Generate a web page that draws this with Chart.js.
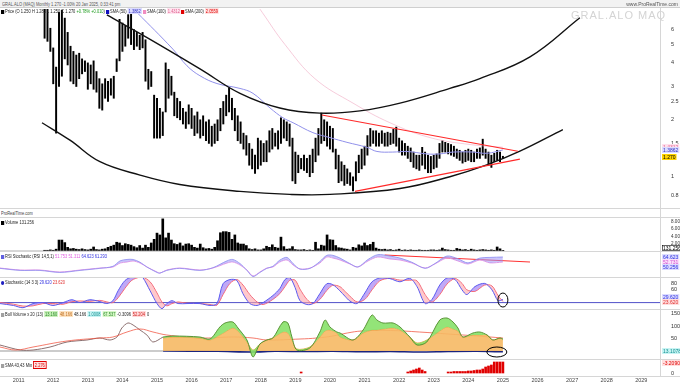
<!DOCTYPE html>
<html>
<head>
<meta charset="utf-8">
<script src="https://cdn.jsdelivr.net/npm/chart.js@4.4.1/dist/chart.umd.min.js"></script>
<style>
  body { margin: 0; width: 680px; height: 383px; overflow: hidden; position: relative; background: #fff;
         font-family: "Liberation Sans", Arial, sans-serif; }
  canvas { position: absolute; left: 0; }
  .t { position: absolute; font-size: 5px; line-height: 6px; white-space: nowrap; color: #222; z-index: 5; }
  .n { transform: scaleX(0.8); transform-origin: 0 0; }
  .sq { display: inline-block; width: 4px; height: 4px; margin-right: 1px; vertical-align: -0.5px; }
  .b { padding: 0 1px; }
  .hl { position: absolute; left: 0; width: 680px; height: 0; border-top: 1px solid #d6d6d6; z-index: 4; }
</style>
</head>
<body>
<div style="position:absolute;left:0;top:0;width:680px;height:7px;background:#f2f2f2;border-bottom:1px solid #cfcfcf"></div>
<div class="t n" style="left:2px;top:1px;color:#555">GRAL.ALO (MAQ) Monthly 1.270 -1.00% 20 Jan 2025, 0:33:41 pm</div>
<div class="t" style="right:2px;top:1px;color:#555">www.ProRealTime.com</div>
<div style="position:absolute;left:571px;top:9px;font-size:11px;letter-spacing:1px;color:#d4d4d4;z-index:1">GRAL.ALO MAQ</div>

<canvas id="cMain" width="680" height="197" style="top:9px"></canvas>
<canvas id="cVol" width="680" height="33" style="top:218px"></canvas>
<canvas id="cRsi" width="680" height="25" style="top:252px"></canvas>
<canvas id="cSto" width="680" height="32" style="top:277px"></canvas>
<canvas id="cBull" width="680" height="49" style="top:310px"></canvas>
<canvas id="cSma" width="680" height="23" style="top:360px"></canvas>

<div class="t n" style="left:1px;top:8px"><span class="sq" style="background:#000"></span>Price (O 1.250 H 1.283 L 1.250 C 1.270 <span style="color:#1a9a1a">+0.78% +0.010</span>)</div>
<div class="t n" style="left:106px;top:8px"><span class="sq" style="background:#1010c0"></span>SMA (50) <span class="b" style="color:#3030c0;background:#dcdcff">1.3862</span></div>
<div class="t n" style="left:143px;top:8px"><span class="sq" style="background:#f08cc0"></span>SMA (100) <span class="b" style="color:#e06090;background:#ffe4ef">1.4312</span></div>
<div class="t n" style="left:181px;top:8px"><span class="sq" style="background:#e00000"></span>SMA (200) <span class="b" style="color:#e00000;background:#ffe0e0">2.0559</span></div>

<div class="hl" style="top:208px"></div>
<div class="t n" style="left:1px;top:210px;color:#444">ProRealTime.com</div>
<div class="hl" style="top:217px"></div>
<div class="t n" style="left:1px;top:219px"><span class="sq" style="background:#000"></span>Volume 131.256</div>
<div class="hl" style="top:251px"></div>
<div class="t n" style="left:1px;top:253px"><span class="sq" style="background:#6060e0"></span>RSI Stochastic (RSI 14,5,1) <span style="color:#e060e0">51.753</span> <span style="color:#e060e0">51.311</span> <span style="color:#3030e0">64.623</span> <span style="color:#3030e0">61.293</span></div>
<div class="hl" style="top:277px"></div>
<div class="t n" style="left:1px;top:279px"><span class="sq" style="background:#2020c0;border-radius:2px"></span>Stochastic (14 3 3) <span style="color:#3030e0">29.620</span> <span style="color:#e03030">23.620</span></div>
<div class="hl" style="top:309px"></div>
<div class="t n" style="left:1px;top:311px"><span class="sq" style="background:#a0a0a0"></span>Bull Volume x 20 (13) <span class="b" style="background:#c8f0b8;color:#2a8a2a">13.160</span> <span class="b" style="background:#fde2c0;color:#c07020">48.166</span> 48.166 <span class="b" style="background:#c8f4f4;color:#109090">1.0008</span> <span class="b" style="background:#d8f8c8;color:#2a8a2a">67.537</span> -0.3096 <span class="b" style="background:#ffd8d8;color:#d02020">52.204</span> 0</div>
<div class="hl" style="top:359px"></div>
<div class="t n" style="left:1px;top:362px"><span class="sq" style="background:#a0a0a0"></span>SMA 43,43 Min <span class="b" style="background:#ffe0e0;color:#e00000;border:0.5px solid #e00000">2.276</span></div>
<div class="hl" style="top:376px"></div>
<div style="position:absolute;left:660px;top:8px;width:0;height:369px;border-left:1px solid #d6d6d6;z-index:4"></div>

<script>
// monthly bars, Oct 2011 .. Jan 2025 (index 0 = Oct 2011)
const priceHigh = [8.6,8.2,6.1,4.8,3.8,7.4,7.6,6.9,5.8,4.9, 4.6,4.4,4.5,4.2,4.1,4.0,3.9,4.1,3.6,3.3,
  3.1,3.3,3.2,3.3,3.4,4.2,6.8,6.5,6.3,7.2, 7.4,6.0,5.8,5.6,5.8,5.3,3.7,3.6,2.7,2.6,
  2.3,2.2,4.0,3.7,3.4,2.8,2.6,2.5,2.3,2.2, 2.4,2.3,2.1,2.2,2.0,2.1,1.95,2.0,1.85,1.9,
  2.0,2.3,2.5,2.7,2.95,2.6,2.3,2.1,1.95,1.7, 1.65,1.5,1.4,1.3,1.6,1.55,1.5,1.55,1.75,1.8,
  1.7,1.75,2.05,2.0,1.95,1.9,1.6,1.35,1.3,1.25, 1.3,1.25,1.3,1.4,1.6,1.8,2.17,2.0,1.95,1.85,
  1.8,1.4,1.3,1.2,1.15,1.1,1.05,1.0,1.2,1.3, 1.4,1.45,1.65,1.8,1.75,1.75,1.7,1.75,1.7,1.72,
  1.7,1.78,1.83,1.6,1.55,1.5,1.45,1.42,1.35,1.3, 1.3,1.43,1.35,1.3,1.28,1.3,1.32,1.5,1.55,1.52,
  1.5,1.48,1.45,1.4,1.38,1.35,1.38,1.4,1.38,1.35, 1.4,1.42,1.58,1.4,1.35,1.3,1.33,1.38,1.35,1.283];
const priceLow = [5.4,5.2,4.6,3.1,1.7,3.0,3.4,4.2,3.9,3.2, 3.1,3.0,3.3,3.5,3.6,2.9,3.1,2.9,2.8,2.3,
  2.25,2.6,2.5,2.7,2.6,3.6,4.1,4.6,4.9,5.4, 5.0,4.7,4.9,4.7,4.8,3.2,2.9,3.0,1.6,1.6,
  1.6,1.65,2.2,2.6,2.7,2.1,2.05,2.0,1.9,1.8, 1.9,1.8,1.65,1.7,1.6,1.65,1.55,1.5,1.45,1.5,
  1.55,1.75,1.9,2.1,2.2,2.0,1.75,1.55,1.5,1.4, 1.3,1.15,1.1,1.04,1.1,1.15,1.2,1.2,1.35,1.4,
  1.45,1.4,1.5,1.6,1.55,1.45,0.95,0.92,1.05,1.1, 1.08,1.05,1.0,1.05,1.2,1.3,1.5,1.55,1.45,1.4,
  1.35,1.1,0.93,0.95,0.9,0.92,0.9,0.84,0.95,1.05, 1.1,1.15,1.3,1.45,1.5,1.45,1.45,1.5,1.45,1.45,
  1.48,1.5,1.45,1.35,1.3,1.3,1.25,1.2,1.12,1.1, 1.08,1.15,1.1,1.05,1.05,1.1,1.12,1.25,1.35,1.35,
  1.32,1.3,1.28,1.25,1.22,1.18,1.2,1.22,1.2,1.2, 1.25,1.25,1.3,1.25,1.15,1.12,1.2,1.22,1.2,1.25];
// volume in millions
const volume = [0.2,0.2,0.3,0.2,0.5,3.0,3.0,2.3,1.0,0.6, 0.7,0.5,0.4,0.6,0.4,0.3,0.5,1.1,0.4,0.3,
  0.5,0.6,1.0,1.3,1.6,2.4,2.2,1.5,2.0,1.8, 1.6,1.2,0.9,1.5,0.8,1.6,1.0,2.2,3.2,4.9,
  4.4,8.8,3.6,4.9,3.0,2.0,1.8,2.2,1.4,1.9, 2.0,1.6,1.0,0.8,1.9,0.9,0.6,0.7,0.5,1.0,
  2.8,5.0,5.3,5.3,5.1,3.2,4.4,2.2,1.9,1.9, 1.5,0.6,0.4,0.6,0.3,0.3,0.6,1.3,1.0,1.7,
  1.0,0.8,3.8,1.2,0.5,0.6,1.2,0.4,0.3,0.3, 0.4,0.2,0.3,0.2,2.4,0.6,1.6,1.4,4.4,3.1,
  3.0,1.5,0.9,0.8,0.6,0.5,0.3,1.0,0.8,1.7, 1.4,2.2,1.5,1.8,2.4,0.8,0.5,0.4,0.5,0.3,
  0.4,0.2,0.3,0.5,0.2,0.3,0.2,0.3,0.2,0.2, 0.3,0.2,0.2,0.2,0.3,0.3,0.2,0.3,0.8,0.4,
  0.3,0.2,0.2,0.7,0.5,0.3,0.4,0.2,0.5,0.3, 0.2,0.3,0.4,0.3,0.2,0.3,0.2,1.1,0.6,0.131];

// moving averages on the price panel (month index, value)
const sma50M = [30, 32, 44.5, 49.4, 53.9, 59.8, 67.8, 72.3, 78.2, 82.7, 86.2, 93.1, 99, 104.9, 111.8, 115.3, 120.8, 125.7, 132.6, 137.1, 141.7, 148.6, 153.5, 159];
const sma50V = [7.9, 7.4, 4.73, 3.86, 3.42, 3.11, 2.93, 2.76, 2.31, 2.05, 1.93, 1.71, 1.61, 1.52, 1.43, 1.36, 1.35, 1.36, 1.32, 1.32, 1.35, 1.35, 1.33, 1.3862];
const sma100M = [74, 75.5, 83.4, 93.8, 107, 119.8, 133.7, 147.6, 159];
const sma100V = [8.0, 7.4, 5.0, 3.3, 2.45, 1.93, 1.61, 1.48, 1.4312];

// drawn curves and triangle
const lowArcM = [-0.9, 8.8, 19.2, 33.1, 46.9, 67.8, 85.1, 99, 123.3, 140.6, 153.4, 164.9, 179.8];
const lowArcV = [1.93, 1.56, 1.2, 1.02, 0.91, 0.836, 0.806, 0.806, 0.866, 1.0, 1.154, 1.364, 1.774];
const highArcM = [21.6, 36.6, 53.9, 67.8, 81.6, 95.5, 109.4, 123.3, 140.6, 151, 168.4, 185.7];
const highArcV = [7.18, 5.33, 3.72, 2.76, 2.31, 2.17, 2.23, 2.45, 2.93, 3.3, 4.3, 6.93];
const triTopM = [96.2, 164.2], triTopV = [2.12, 1.364];
const triLowM = [107.7, 164.9], triLowV = [0.836, 1.24];

// RSI stochastic panel
const rsiM = [-15.5, -8.5, -1.6, 5.3, 12.3, 19.2, 23.7, 26.2, 28.6, 30.7, 33.1, 35.5, 39, 40, 42.4, 46.9, 53.9, 58.4, 63.3, 65.3, 67.8, 70.2, 72.3, 74.7, 77.1, 79.2, 81.6, 84.1, 86.2, 88.6, 92.1, 95.5, 97.9, 100, 102.5, 105.9, 108.7, 112.2, 115.6, 119.8, 123.3, 127.4, 132, 135.4, 139.6, 143.4, 146.9, 151, 154.5, 159];
const rsiPink = [48.5, 45.6, 45.6, 42.7, 45.6, 48.5, 50, 55.8, 57.3, 58.8, 55.8, 50, 42.7, 41.2, 45.6, 48.5, 45.6, 48.5, 55.8, 57.3, 52.9, 45.6, 36.9, 42.7, 48.5, 50, 57.3, 60.2, 52.9, 47.1, 48.5, 55.8, 64.6, 63.1, 60.2, 54.4, 50, 58.8, 64.6, 61.7, 60.2, 55.8, 48.5, 54.4, 63.1, 58.8, 54.4, 60.2, 56, 57.3];
const rsiBlue = [48, 45, 45, 42, 45, 48, 51, 59, 61, 61, 57, 50, 42, 41, 45, 48, 45, 49, 59, 61, 55, 45, 36, 42, 48, 51, 60, 64, 55, 47, 48, 58, 67, 67, 63, 55, 50, 61, 68, 66, 63, 57, 48, 55, 66, 62, 56, 63, 64, 64.6];
const rsiTrendM = [118, 168.4], rsiTrendV = [67.5, 57.3];

// stochastic %K / %D
const stoM = [-15.5, -10.8, -7.5, -4, -0.6, 2.9, 6.4, 9.5, 12.3, 15.7, 19.2, 21.6, 23.7, 25.5, 27.9, 30.3, 33.1, 34.1, 36.6, 39, 40.7, 42.4, 44.2, 46.3, 49.4, 53.9, 57.4, 59.8, 61.9, 64.3, 66.7, 68.8, 71.2, 73.7, 75.8, 79.2, 81.6, 83.4, 85.1, 86.9, 88.6, 91, 93.1, 95.5, 97.9, 100, 102.4, 104.2, 105.9, 108.4, 111.1, 113.6, 116.3, 119.8, 123.3, 126.7, 129.2, 132, 134.4, 137.1, 139.6, 142.4, 144.8, 146.5, 149.3, 152.7, 155.2, 157.3, 159];
const stoK = [17, 11, 4, 17, 20, 11, 20, 29, 20, 29, 23, 17, 26, 57, 89, 100, 100, 98, 57, 17, 1, 17, 26, 17, 17, 17, 11, 17, 79, 92, 89, 48, 17, 11, 20, 42, 64, 92, 98, 67, 26, 14, 17, 48, 79, 76, 57, 40, 25, 17, 50, 85, 97, 95, 85, 96, 70, 17, 30, 75, 97, 92, 60, 45, 70, 80, 60, 26, 29.62];
const stoD = [20, 15, 9, 10, 17, 17, 15, 23, 25, 24, 27, 22, 20, 35, 65, 90, 100, 100, 85, 50, 22, 10, 17, 22, 18, 17, 14, 12, 45, 80, 92, 75, 45, 22, 14, 30, 48, 70, 90, 90, 62, 30, 17, 30, 58, 74, 70, 55, 40, 22, 30, 60, 88, 96, 90, 90, 88, 45, 22, 45, 78, 95, 80, 60, 55, 75, 72, 42, 23.62];

// bull / bear volume panel
const bullLeftM = [-15.5, -8.5, -4, 1.9, 7.8, 14.7, 19.2, 22.7, 25.1, 26.8, 28.9, 30.7, 33.1, 35.5, 37.6, 41.1];
const bullLeftV = [24, 4, 4, 16, 36, 44, 52, 44, 56, 92, 112, 104, 84, 64, 36, 56];
const bullM = [41.1, 44.5, 53.9, 57.4, 60.8, 62.6, 65.3, 67.1, 70.2, 72.3, 74.7, 77.1, 79.2, 82.7, 84.4, 85.8, 87.5, 92, 95.5, 97.3, 99, 101.4, 102.5, 107, 110.5, 113.6, 115.3, 117.4, 120.9, 123.3, 126.7, 129.2, 132.6, 137.1, 139.6, 141.7, 143.4, 145.1, 148.6, 151, 153.5, 155.5, 158, 159];
const bullGreen = [56, 60, 56, 48, 96, 112, 116, 92, 44, -24, 28, 44, 52, 116, 112, 56, 4, 12, 76, 124, 96, 76, 72, 44, 84, 144, 124, 112, 112, 96, 56, 24, 36, 124, 132, 116, 92, 56, 72, 76, 64, 44, 52, 48];
const bullOrange = [52, 56, 52, 44, 64, 76, 92, 80, 36, 4, 28, 44, 52, 76, 72, 44, 8, 16, 56, 80, 84, 72, 56, 44, 72, 84, 84, 88, 92, 84, 56, 32, 44, 80, 96, 88, 80, 56, 64, 64, 64, 44, 52, 44];
const bullMaM = [-15.5, -10, -4, 7.8, 19.2, 23.7, 28.6, 33.1, 37.6, 42.4, 53.9, 65.3, 72.3, 77.1, 88.6, 94.5, 100, 105, 110, 120, 130, 140, 150, 159];
const bullMaV = [16, 4, 16, 40, 52, 56, 76, 88, 76, 64, 52, 56, 52, 44, 48, 52, 60, 72, 80, 82, 76, 68, 60, 52];
const bearM = [41.1, 60, 72, 80, 90, 100, 110, 120, 130, 140, 150, 159];
const bearV = [0, -1, -4, -1, -2, -1, -3, -2, -4, -2, -1, -3.2];

// SMA min panel (red histogram)
const minM = [89, 126, 127, 128, 129, 130, 131, 132, 140, 141, 142, 143, 144, 145, 146, 147, 148, 149, 150, 151, 152, 153, 154, 155, 156, 157, 158, 159];
const minV = [1, 1, 2, 3, 4, 5, 3, 1.5, 1, 1, 1.5, 1.5, 1.5, 1.5, 1.5, 2, 2, 2.5, 3, 3, 4, 6, 7, 8, 11, 11, 11, 11];

// axis ticks
const yearLabels = ['2011','2012','2013','2014','2015','2016','2017','2018','2019','2020','2021','2022','2023','2024','2025','2026','2027','2028','2029'];
const priceTicks = [0.8, 1, 1.5, 2, 2.5, 3, 4, 5, 6];
const volTicks = [2, 4, 6, 8];

document.addEventListener('DOMContentLoaded', function() {
  const M_MIN = -15.47, M_MAX = 213.5;
  const yearPos = yearLabels.map(y => (Number(y) - 2011.75) * 12);
  Chart.defaults.font.family = '"Liberation Sans", Arial, sans-serif';
  Chart.defaults.font.size = 5.5;

  // value tags on the right axis, rings, and the year row under the last panel
  const extras = {
    id: 'extras',
    afterDatasetsDraw(chart, args, o) {
      const ctx = chart.ctx, xs = chart.scales.x, ys = chart.scales.y, a = chart.chartArea;
      ctx.save();
      (o.rings || []).forEach(r => {
        ctx.beginPath();
        ctx.ellipse(xs.getPixelForValue(r.m), ys.getPixelForValue(r.v), r.rx, r.ry, 0, 0, Math.PI * 2);
        ctx.strokeStyle = '#000';
        ctx.lineWidth = 1;
        ctx.stroke();
      });
      ctx.font = '5px "Liberation Sans", Arial';
      ctx.textBaseline = 'middle';
      (o.tags || []).forEach(t => {
        const py = Math.round(ys.getPixelForValue(t.v));
        const w = ctx.measureText(t.text).width + 2;
        ctx.fillStyle = t.bg;
        ctx.fillRect(a.right + 2, py - 3, w, 6);
        if (t.border) {
          ctx.strokeStyle = t.border;
          ctx.lineWidth = 0.6;
          ctx.strokeRect(a.right + 2.5, py - 2.5, w - 1, 5);
        }
        ctx.fillStyle = t.fg;
        ctx.fillText(t.text, a.right + 3, py + 0.5);
      });
      if (o.years) {
        ctx.font = '5.5px "Liberation Sans", Arial';
        ctx.fillStyle = '#444';
        ctx.textAlign = 'center';
        yearLabels.forEach((lab, i) => {
          ctx.fillText(lab, xs.getPixelForValue(yearPos[i]), a.bottom + 4);
        });
      }
      ctx.restore();
    }
  };

  function pts(ms, vs) {
    return ms.map((m, i) => ({ x: m, y: vs[i] }));
  }
  function line(ms, vs, color, width, more) {
    return Object.assign({ type: 'line', data: pts(ms, vs), borderColor: color, borderWidth: width,
      pointRadius: 0, fill: false, tension: 0 }, more || {});
  }
  function xAxis() {
    return { type: 'linear', min: M_MIN, max: M_MAX, offset: false, display: false };
  }
  function yAxis(min, max, ticks, fmt, type, size) {
    return {
      type: type || 'linear', position: 'right', min: min, max: max,
      grid: { display: false }, border: { display: false },
      ticks: { color: '#333', padding: 3, autoSkip: false, font: { size: size || 5.5 }, callback: fmt || (v => String(v)) },
      afterBuildTicks: s => { s.ticks = ticks.map(v => ({ value: v })); },
      afterFit: s => { s.width = 20; s.paddingTop = 0; s.paddingBottom = 0; }
    };
  }
  function panel(id, type, datasets, y, extra, bottomPad) {
    return new Chart(document.getElementById(id), {
      type: type,
      data: { datasets: datasets },
      options: {
        responsive: false, animation: false, events: [],
        layout: { padding: { left: 0, right: 0, top: 0, bottom: bottomPad || 0 } },
        scales: { x: xAxis(), y: y },
        plugins: { legend: { display: false }, tooltip: { enabled: false }, extras: extra || {} }
      },
      plugins: [extras]
    });
  }

  // price panel
  panel('cMain', 'bar', [
    line(triTopM, triTopV, '#ff2a2a', 1.2),
    line(triLowM, triLowV, '#ff2a2a', 1.2),
    line(lowArcM, lowArcV, '#111', 1.4, { tension: 0.4 }),
    line(highArcM, highArcV, '#111', 1.4, { tension: 0.4 }),
    line(sma50M, sma50V, '#9090ea', 1, { tension: 0.4 }),
    line(sma100M, sma100V, 'rgba(240,170,195,0.6)', 1, { tension: 0.4 }),
    { type: 'bar', order: 10, data: priceHigh.map((h, i) => ({ x: i, y: [priceLow[i], h] })),
      backgroundColor: '#000', barThickness: 1.3, grouped: false }
  ], yAxis(0.733, 7.71, priceTicks, v => String(v), 'logarithmic'), {
    tags: [
      { v: 1.4312, text: '1.4312', bg: '#ffe0ec', fg: '#e06090' },
      { v: 1.3862, text: '1.3862', bg: '#dcdcff', fg: '#3030c0' },
      { v: 1.27, text: '1.270', bg: '#ffd400', fg: '#000' }
    ]
  });

  // volume
  panel('cVol', 'bar', [
    line([M_MIN, 159], [0, 0], '#999', 0.8),
    { type: 'bar', data: volume.map((v, i) => ({ x: i, y: v })), backgroundColor: '#000', barThickness: 2, grouped: false }
  ], yAxis(0, 9.04, volTicks, v => v.toFixed(3) + 'M', 'linear', 4.6), {
    tags: [{ v: 0.9, text: '131.256', bg: '#fff', fg: '#000', border: '#000' }]
  });

  // RSI stochastic
  panel('cRsi', 'line', [
    line(rsiM, rsiBlue, '#8c8cf0', 0.8, { tension: 0.3, fill: { target: 1, above: 'rgba(160,150,245,0.55)', below: 'rgba(0,0,0,0)' } }),
    line(rsiM, rsiPink, '#e59be6', 1, { tension: 0.3 }),
    line(rsiTrendM, rsiTrendV, '#ff3030', 1)
  ], yAxis(35.4, 71.9, []), {
    tags: [
      { v: 64.6, text: '64.623', bg: '#dcdcff', fg: '#3030e0' },
      { v: 57.5, text: '52.731', bg: '#fbe0fb', fg: '#d050d0' },
      { v: 50.3, text: '50.256', bg: '#dcdcff', fg: '#3030e0' }
    ]
  });

  // stochastic
  panel('cSto', 'line', [
    line(stoM, stoK, '#5a5af0', 1, { tension: 0.3, fill: { target: 1, above: 'rgba(150,110,240,0.6)', below: 'rgba(255,165,170,0.6)' } }),
    line(stoM, stoD, '#ff6060', 1, { tension: 0.3 }),
    line([M_MIN, M_MAX], [20, 20], '#5050c8', 1)
  ], yAxis(0, 100, [60, 80]), {
    rings: [{ m: 159, v: 28, rx: 5, ry: 7 }],
    tags: [
      { v: 37, text: '29.620', bg: '#dcdcff', fg: '#3030e0' },
      { v: 21, text: '23.620', bg: '#ffdede', fg: '#e03030' }
    ]
  });

  // bull / bear volume
  panel('cBull', 'line', [
    line(bullM, bullGreen, '#4f8a2a', 0.9, { tension: 0.3, fill: { target: 1, above: 'rgba(135,225,105,0.9)', below: 'rgba(135,225,105,0.9)' } }),
    line(bullM, bullOrange, '#e8a040', 0.8, { tension: 0.3, fill: { target: 'origin', above: 'rgba(246,185,100,0.9)', below: 'rgba(246,185,100,0.9)' } }),
    line(bullMaM, bullMaV, 'rgba(240,80,60,0.75)', 1, { tension: 0.4 }),
    line(bullLeftM, bullLeftV, '#8c7070', 1, { tension: 0.3 }),
    line([M_MIN, 41.1], [0, 0], '#999', 1),
    line(bearM, bearV, '#1a237e', 1.6, { tension: 0.3 })
  ], yAxis(-32, 164, [50, 100, 150]), {
    rings: [{ m: 156.9, v: -4, rx: 10, ry: 5 }],
    tags: [{ v: 0, text: '13.1078', bg: '#c8f4f4', fg: '#109090' }]
  });

  // SMA min histogram with the year row under it
  panel('cSma', 'bar', [
    { type: 'bar', data: pts(minM, minV), backgroundColor: '#e00000', barThickness: 2, grouped: false }
  ], yAxis(-3, 13, [0]), {
    years: true,
    tags: [{ v: 10, text: '-3.2090', bg: '#ffdede', fg: '#e00000' }]
  }, 7);
});
</script>
</body>
</html>
